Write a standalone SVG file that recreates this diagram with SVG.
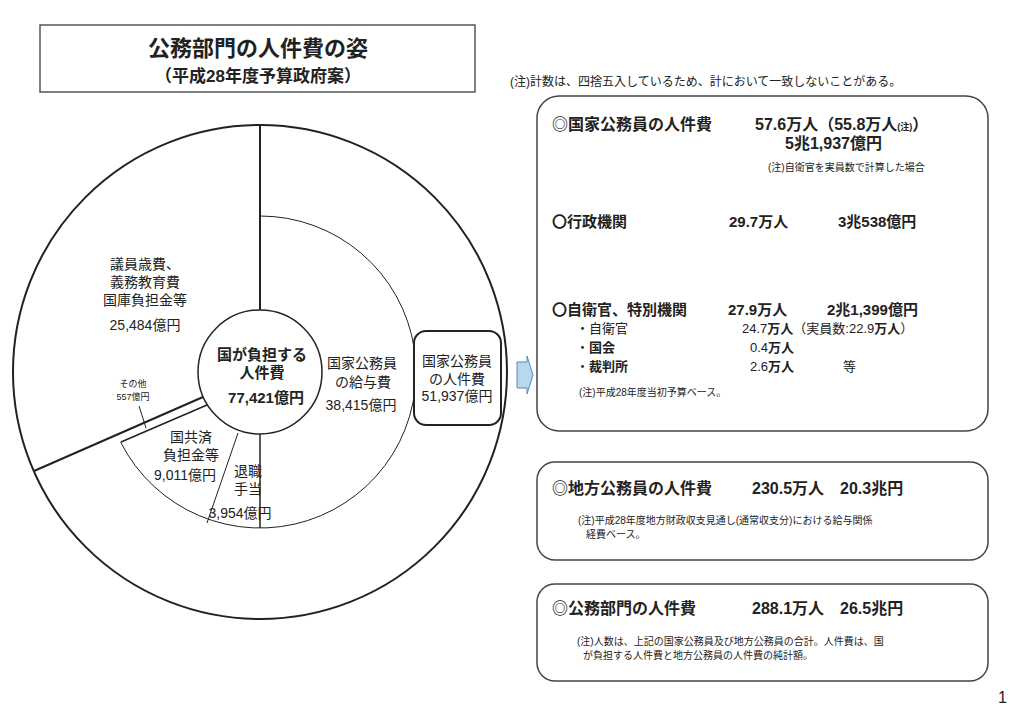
<svg xmlns="http://www.w3.org/2000/svg" width="1024" height="721" viewBox="0 0 1024 721">
<style>
text{font-family:"Liberation Sans","Noto Sans CJK JP",sans-serif;fill:#222}
.b{font-weight:bold}
.j{font-family:"Noto Sans CJK JP",sans-serif}
.ln{stroke:#222;fill:none}
.box{fill:#fff;stroke:#444;stroke-width:1.5}
</style>
<rect width="1024" height="721" fill="#fff"/>
<g id="title">
<rect x="40" y="25" width="435" height="67" fill="#fff" stroke="#555" stroke-width="1.5"/>
<text x="258" y="56" font-size="22" class="b" text-anchor="middle">公務部門の人件費の姿</text>
<text x="258" y="82" font-size="17" class="b" text-anchor="middle">（平成28年度予算政府案）</text>
</g>
<text x="510" y="86" font-size="12">(注)計数は、四捨五入しているため、計において一致しないことがある。</text>
<g id="pie">
<circle cx="260" cy="372" r="247" class="ln" stroke-width="2"/>
<path d="M260 216 A156 156 0 1 1 120.6 442" class="ln" stroke-width="1"/>
<circle cx="260" cy="372" r="62" fill="#fff" stroke="#222" stroke-width="1.5"/>
</g>
<g id="connectors">
<line x1="260" y1="125" x2="260" y2="310" class="ln" stroke-width="2"/>
<line x1="260" y1="434" x2="260" y2="528" class="ln" stroke-width="1.5"/>
<line x1="203" y1="397" x2="34" y2="471" class="ln" stroke-width="2"/>
<line x1="207" y1="405" x2="121" y2="442" class="ln" stroke-width="1.5"/>
<line x1="238" y1="433" x2="207" y2="523" class="ln" stroke-width="1"/>
<line x1="139" y1="406" x2="146" y2="428" class="ln" stroke-width="1"/>
<path d="M517 362 H527 V356 L533 375 L527 394 V388 H517 Z" fill="#b8d8ee" stroke="#5a8ab0" stroke-width="1"/>
</g>
<g id="n-giin">
<text x="145" y="269" font-size="14" text-anchor="middle">議員歳費、</text>
<text x="145" y="287" font-size="14" text-anchor="middle">義務教育費</text>
<text x="145" y="305" font-size="14" text-anchor="middle">国庫負担金等</text>
<text x="145" y="330" font-size="14" text-anchor="middle">25,484億円</text>
</g>
<g id="n-center">
<text x="262" y="360" font-size="15" class="b" text-anchor="middle">国が負担する</text>
<text x="262" y="378" font-size="15" class="b" text-anchor="middle">人件費</text>
<text x="266" y="403" font-size="15" class="b" text-anchor="middle">77,421億円</text>
</g>
<g id="n-kyuyo">
<text x="362" y="368" font-size="14" text-anchor="middle">国家公務員</text>
<text x="363" y="387" font-size="14" text-anchor="middle">の給与費</text>
<text x="361" y="410" font-size="14" text-anchor="middle">38,415億円</text>
</g>
<g id="n-sonota">
<text x="133" y="387" font-size="9" text-anchor="middle">その他</text>
<text x="133" y="400" font-size="9" text-anchor="middle">557億円</text>
</g>
<g id="n-kyosai">
<text x="191" y="442" font-size="14" text-anchor="middle">国共済</text>
<text x="191" y="460" font-size="14" text-anchor="middle">負担金等</text>
<text x="185" y="480" font-size="14" text-anchor="middle">9,011億円</text>
</g>
<g id="n-taishoku">
<text x="248" y="476" font-size="14" text-anchor="middle">退職</text>
<text x="248" y="494" font-size="14" text-anchor="middle">手当</text>
<text x="240" y="518" font-size="14" text-anchor="middle">3,954億円</text>
</g>
<g id="n-kokka">
<rect x="414" y="331" width="87" height="94" rx="12" fill="#fff" stroke="#222" stroke-width="2"/>
<text x="457" y="366" font-size="14" text-anchor="middle">国家公務員</text>
<text x="457" y="384" font-size="14" text-anchor="middle">の人件費</text>
<text x="457" y="401" font-size="14" text-anchor="middle">51,937億円</text>
</g>
<g id="p-kokka">
<rect x="537" y="96" width="451" height="335" rx="22" class="box"/>
<text x="552" y="130" font-size="16" class="b">◎国家公務員の人件費</text>
<text x="755" y="130" font-size="16" class="b">57.6万人（55.8万人<tspan font-size="9">(注)</tspan>）</text>
<text x="785" y="149" font-size="16" class="b">5兆1,937億円</text>
<text x="768" y="171" font-size="10">(注)自衛官を実員数で計算した場合</text>
<text x="552" y="227" font-size="15" class="b"><tspan class="j">〇</tspan>行政機関</text>
<text x="729" y="227" font-size="15" class="b">29.7万人</text>
<text x="838" y="227" font-size="15" class="b">3兆538億円</text>
<text x="552" y="315" font-size="15" class="b"><tspan class="j">〇</tspan>自衛官、特別機関</text>
<text x="728" y="315" font-size="15" class="b">27.9万人</text>
<text x="827" y="315" font-size="15" class="b">2兆1,399億円</text>
<text x="576" y="333" font-size="13">・自衛官</text>
<text x="742" y="333" font-size="13">24.7<tspan class="b">万人</tspan>（実員数:22.9<tspan class="b">万人</tspan>）</text>
<text x="576" y="352" font-size="13">・<tspan class="b">国会</tspan></text>
<text x="750" y="352" font-size="13">0.4<tspan class="b">万人</tspan></text>
<text x="576" y="371" font-size="13">・<tspan class="b">裁判所</tspan></text>
<text x="750" y="371" font-size="13">2.6<tspan class="b">万人</tspan></text>
<text x="843" y="371" font-size="13">等</text>
<text x="579" y="396" font-size="10">(注)平成28年度当初予算ベース。</text>
</g>
<g id="p-chiho">
<rect x="537" y="462" width="451" height="98" rx="18" class="box"/>
<text x="552" y="494" font-size="16" class="b">◎地方公務員の人件費</text>
<text x="752" y="494" font-size="16" class="b">230.5万人　20.3兆円</text>
<text x="578" y="524" font-size="10">(注)平成28年度地方財政収支見通し(通常収支分)における給与関係</text>
<text x="586" y="538" font-size="10">経費ベース。</text>
</g>
<g id="p-koumu">
<rect x="537" y="584" width="451" height="97" rx="18" class="box"/>
<text x="552" y="614" font-size="16" class="b">◎公務部門の人件費</text>
<text x="752" y="614" font-size="16" class="b">288.1万人　26.5兆円</text>
<text x="577" y="645" font-size="10">(注)人数は、上記の国家公務員及び地方公務員の合計。人件費は、国</text>
<text x="583" y="659" font-size="10">が負担する人件費と地方公務員の人件費の純計額。</text>
</g>
<text x="998" y="703" font-size="16">1</text>
</svg>
